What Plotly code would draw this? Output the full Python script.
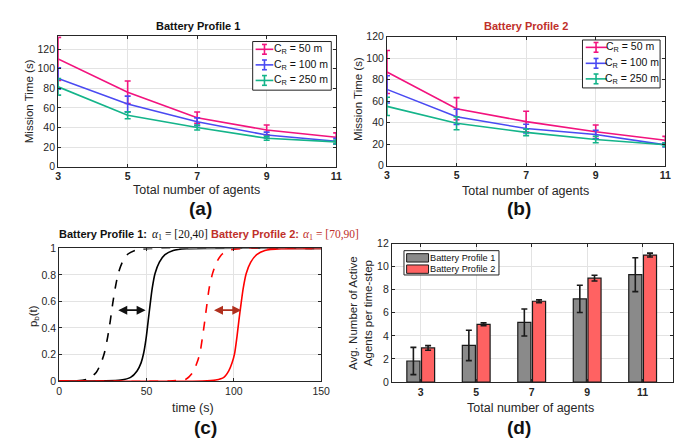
import plotly.graph_objects as go

W, H = 683, 440

def px(x):
    return x / W

def py(y):
    return 1 - y / H

# ---------------- data ----------------
agents = [3, 5, 7, 9, 11]
series_names = ["C<sub>R</sub> = 50 m", "C<sub>R</sub> = 100 m", "C<sub>R</sub> = 250 m"]

# Panel (a): Battery Profile 1 mission time (s)
bp1_cr50 = [110, 76, 50, 37.5, 30]
bp1_cr50_err = [22, 11.5, 5.8, 5, 4.5]
bp1_cr100 = [90, 64, 45.8, 32.3, 26]
bp1_cr100_err = [11, 8, 4, 3, 3]
bp1_cr250 = [81.5, 52.5, 40, 29, 25.3]
bp1_cr250_err = [8.5, 3.5, 2.5, 2, 2]

# Panel (b): Battery Profile 2 mission time (s)
bp2_cr50 = [87.2, 53, 41, 31.6, 23.7]
bp2_cr50_err = [20, 10.3, 9.6, 6.3, 3.6]
bp2_cr100 = [71, 45.5, 34.6, 29, 19.4]
bp2_cr100_err = [12.7, 7, 4, 4, 2]
bp2_cr250 = [55.2, 39.5, 31, 24.4, 19.5]
bp2_cr250_err = [8.5, 6, 3, 3, 1.5]

# Panel (c): p_b(t) curves
t_bp1_lo = [0, 9, 16.5, 21.2, 24, 25.9, 27.8, 29.3, 30.6, 32.1, 33.8, 36.2, 39.4, 44.6, 52, 150]
p_bp1_lo = [0, 0, 0.015, 0.064, 0.137, 0.211, 0.333, 0.456, 0.578, 0.70, 0.81, 0.897, 0.958, 0.99, 1.0, 1.0]
t_bp1_hi = [0, 35.3, 40.9, 44.6, 46.9, 48.4, 49.9, 51.0, 52.1, 53.3, 54.9, 57.4, 60.6, 65.3, 72.8, 150]
p_bp1_hi = [0, 0.007, 0.027, 0.076, 0.137, 0.211, 0.333, 0.456, 0.578, 0.70, 0.811, 0.897, 0.953, 0.985, 0.998, 1.0]
t_bp2_lo = [0, 63.4, 72.8, 76.5, 78.9, 80.6, 82.1, 83.4, 84.6, 85.9, 87.8, 90.2, 93.4, 98.1, 106.5, 150]
p_bp2_lo = [0, 0, 0.015, 0.064, 0.137, 0.211, 0.333, 0.456, 0.578, 0.70, 0.81, 0.897, 0.958, 0.99, 1.0, 1.0]
t_bp2_hi = [0, 82, 89.6, 94.3, 97.1, 99.0, 100.5, 101.8, 102.9, 104.1, 105.4, 107.1, 109.7, 113.1, 117.8, 127.1, 150]
p_bp2_hi = [0, 0, 0.007, 0.027, 0.076, 0.137, 0.211, 0.333, 0.456, 0.578, 0.70, 0.811, 0.897, 0.953, 0.985, 0.998, 1.0]

# arrows (start, end, level)
arrow_bp1 = [33.0, 49.5, 0.534]
arrow_bp2 = [87.8, 104.3, 0.534]

# Panel (d): avg number of active agents
agent_labels = ["3", "5", "7", "9", "11"]
bar_names = ["Battery Profile 1", "Battery Profile 2"]
active_bp1 = [1.82, 3.17, 5.16, 7.2, 9.3]
active_bp1_err = [1.18, 1.32, 1.17, 1.18, 1.47]
active_bp2 = [2.95, 5.0, 7.0, 9.0, 11.0]
active_bp2_err = [0.2, 0.12, 0.12, 0.25, 0.17]

# ---------------- style ----------------
FONT = "Liberation Sans, Arial, Helvetica, sans-serif"
SERIF = "Liberation Serif, Times New Roman, serif"
PINK = "#f2137e"
BLUE = "#4a4af2"
GREEN = "#14b48a"
LINE_COLORS = [PINK, BLUE, GREEN]
GRAY = "#8a8a8a"
LRED = "#ff6262"
AXC = "#262626"
GRID = "#e3e3e3"
DRED = "#c0302a"

fig = go.Figure()

def add_lines(xa, ya, vals):
    for name, (y, e), col in zip(series_names, vals, LINE_COLORS):
        fig.add_trace(go.Scatter(
            x=agents, y=y, mode="lines", name=name, showlegend=False,
            line=dict(color=col, width=1.6),
            error_y=dict(type="data", array=e, color=col, thickness=1.6, width=3),
            xaxis=xa, yaxis=ya))

add_lines("x", "y",
          [(bp1_cr50, bp1_cr50_err), (bp1_cr100, bp1_cr100_err), (bp1_cr250, bp1_cr250_err)])
add_lines("x2", "y2",
          [(bp2_cr50, bp2_cr50_err), (bp2_cr100, bp2_cr100_err), (bp2_cr250, bp2_cr250_err)])

for t, p, col, dash in [(t_bp1_lo, p_bp1_lo, "black", "dash"),
                        (t_bp1_hi, p_bp1_hi, "black", "solid"),
                        (t_bp2_lo, p_bp2_lo, "#ff0000", "dash"),
                        (t_bp2_hi, p_bp2_hi, "#ff0000", "solid")]:
    fig.add_trace(go.Scatter(x=t, y=p, mode="lines", showlegend=False,
                             line=dict(color=col, width=1.6, dash=dash, shape="spline", smoothing=0.7),
                             xaxis="x3", yaxis="y3"))

for name, vals, errs, col in [(bar_names[0], active_bp1, active_bp1_err, GRAY),
                              (bar_names[1], active_bp2, active_bp2_err, LRED)]:
    fig.add_trace(go.Bar(x=agent_labels, y=vals, name=name, showlegend=False,
                         marker=dict(color=col, line=dict(color="#1a1a1a", width=1.2)),
                         error_y=dict(type="data", array=errs, color="#1a1a1a", thickness=1.6, width=3),
                         xaxis="x4", yaxis="y4"))

def ax(domain, anchor, **kw):
    d = dict(domain=domain, anchor=anchor, showline=True, linecolor=AXC, linewidth=1,
             mirror="allticks", ticks="inside", ticklen=3, tickcolor=AXC,
             showgrid=True, gridcolor=GRID, gridwidth=1, zeroline=False,
             tickfont=dict(family=FONT, size=10.5, color=AXC))
    d.update(kw)
    return d

boldtick = dict(family=FONT, size=10.5, color=AXC, weight="bold")

layout = dict(
    width=W, height=H, margin=dict(l=0, r=0, t=0, b=0),
    paper_bgcolor="white", plot_bgcolor="white",
    font=dict(family=FONT, color=AXC),
    showlegend=False,
    barmode="group", bargap=0.47, bargroupgap=0.11,
    xaxis=ax([px(48), px(331)], "y", range=[3, 11], tickvals=agents, tickfont=boldtick),
    yaxis=ax([py(157), py(23)], "x", range=[0, 133], dtick=20),
    xaxis2=ax([px(382.7), px(666)], "y2", range=[3, 11], tickvals=agents, tickfont=boldtick),
    yaxis2=ax([py(156), py(23.3)], "x2", range=[0, 120], dtick=20),
    xaxis3=ax([px(49), px(315.7)], "y3", range=[0, 150], dtick=50),
    yaxis3=ax([py(377.3), py(241)], "x3", range=[0, 1], dtick=0.2),
    xaxis4=ax([px(387.7), px(674)], "y4", type="category", range=[-0.52, 4.55], tickfont=boldtick),
    yaxis4=ax([py(378.3), py(236)], "x4", range=[0, 12], dtick=2),
)
fig.update_layout(**layout)

anns = []
shapes = []

def txt(x, y, s, size=11, color=AXC, angle=0, bold=False, fam=FONT):
    if bold:
        s = "<b>" + s + "</b>"
    anns.append(dict(x=px(x), y=py(y), xref="paper", yref="paper", text=s, showarrow=False,
                     xanchor="center", yanchor="middle", textangle=angle, borderpad=0,
                     font=dict(family=fam, size=size, color=color)))

def pline(x0, y0, x1, y1, col, w=1.6):
    shapes.append(dict(type="line", xref="paper", yref="paper",
                       x0=px(x0), y0=py(y0), x1=px(x1), y1=py(y1),
                       line=dict(color=col, width=w)))

def prect(x0, y0, x1, y1, fill, lc="#222222", w=1):
    shapes.append(dict(type="rect", xref="paper", yref="paper",
                       x0=px(x0), y0=py(y0), x1=px(x1), y1=py(y1),
                       fillcolor=fill, line=dict(color=lc, width=w)))

# ---- manual legends (a), (b) ----
def line_legend(bx0, by0, bx1, by1, rows, lx0, lx1, lxc, tcenters):
    prect(bx0, by0, bx1, by1, "white")
    for name, ry, col, tc in zip(series_names, rows, LINE_COLORS, tcenters):
        pline(lx0, ry, lx1, ry, col)
        pline(lxc, ry - 5, lxc, ry + 5, col)
        pline(lxc - 2.5, ry - 5, lxc + 2.5, ry - 5, col)
        pline(lxc - 2.5, ry + 5, lxc + 2.5, ry + 5, col)
        txt(tc, ry, name, size=10.5, color="#111")

line_legend(246, 28.3, 326, 78.3, [36.3, 52.3, 68.3], 249, 267, 258, [292.2, 295.0, 295.5])
line_legend(581.7, 26.7, 660.7, 76, [34.3, 50.7, 66.7], 585, 606.7, 595.5, [630.0, 632.5, 632.5])

# ---- manual legend (d) ----
prect(400, 243.3, 496.7, 268.3, "white")
for name, ry, col in zip(bar_names, [250.7, 262.3], [GRAY, LRED]):
    prect(402.7, ry - 4.3, 425, ry + 4.3, col, lc="#1a1a1a", w=1)
    txt(459.3, ry, name, size=9.2, color="#111")

# titles
txt(190, 12, "Battery Profile 1", size=11, color="#111", bold=True)
txt(524, 12, "Battery Profile 2", size=11, color=DRED, bold=True)

txt(94, 226, "Battery Profile 1:", size=11, color="#111", bold=True)
txt(172, 227, "<i>α</i><sub>1</sub> = [20,40]", size=11.5, color="#111", fam=SERIF)
txt(248, 226, "Battery Profile 2:", size=11, color=DRED, bold=True)
txt(325.5, 227, "<i>α</i><sub>1</sub> = [70,90]", size=11.5, color=DRED, fam=SERIF)

# axis titles
txt(18, 90, "Mission Time (s)", size=11.5, angle=-90)
txt(352.5, 87, "Mission Time (s)", size=11.5, angle=-90)
txt(23, 311, "p<sub>b</sub>(t)", size=11.5, angle=-90)
txt(355.5, 307, "Avg. Number of Active<br>Agents per time-step", size=11.5, angle=-90)
txt(189, 181, "Total number of agents", size=12.5)
txt(524, 181.5, "Total number of agents", size=12.5)
txt(185, 405, "time (s)", size=12.5)
txt(529, 405.5, "Total number of agents", size=12.5)

# panel letters
txt(192.5, 200, "(a)", size=19, color="#111", bold=True)
txt(517, 200, "(b)", size=19, color="#111", bold=True)
txt(198, 425.5, "(c)", size=19, color="#111", bold=True)
txt(516.7, 425.5, "(d)", size=19, color="#111", bold=True)

# double arrows in (c)
for (a0, a1, lev), col in [(arrow_bp1, "#111111"), (arrow_bp2, "#b0301e")]:
    anns.append(dict(x=a1, y=lev, ax=a0, ay=lev, xref="x3", yref="y3", axref="x3", ayref="y3",
                     text="", showarrow=True, arrowhead=2, arrowside="end+start",
                     arrowsize=1, arrowwidth=1.8, arrowcolor=col))

fig.update_layout(annotations=anns, shapes=shapes)
fig.write_html("out.html")
